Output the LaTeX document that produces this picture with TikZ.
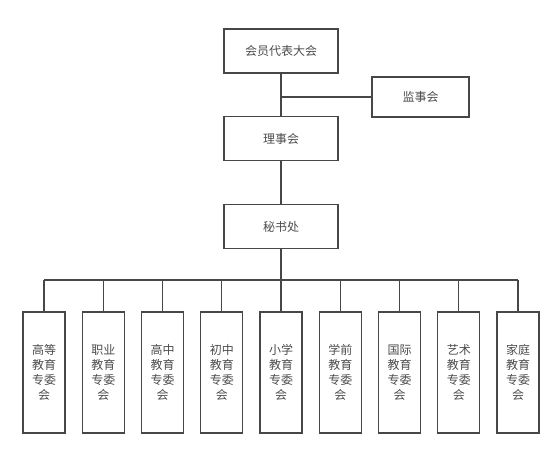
\documentclass[tikz,border=0pt]{standalone}
\usepackage{fontspec}
\setmainfont{Noto Sans CJK SC}
\tikzset{every picture/.style={line width=1.1pt}}
\tikzset{
  orgbox/.style={draw=black!72, text=black!70, minimum width=85.5pt, minimum height=33pt, inner sep=0pt, font=\fontsize{9}{11.25}\selectfont},
  sidebox/.style={orgbox, minimum width=72.75pt, minimum height=30pt},
  subbox/.style={draw=black!72, text=black!70, minimum width=31.5pt, minimum height=90.75pt, inner sep=0pt, align=center, font=\fontsize{9}{11.25}\selectfont},
  link/.style={draw=black!72}
}

\begin{document}
\begin{tikzpicture}[x=0.75pt,y=0.75pt,yscale=-1,xscale=1]
	\useasboundingbox (0,0) rectangle (559,454);

	% Main chain
	\node[orgbox] (congress) at (281,51) {会员代表大会};
	\node[orgbox] (council) at (281,138.5) {理事会};
	\node[orgbox] (office) at (281,226.5) {秘书处};
	\node[sidebox] (supervisor) at (420.5,97) {监事会};

	\draw[link] (congress) -- (council);
	\draw[link] (council) -- (office);
	\draw[link] (supervisor.west) -- (supervisor.west -| congress.south);

	% Committees
	\foreach \i/\name in {1/高等,2/职业,3/高中,4/初中,5/小学,6/学前,7/国际,8/艺术,9/家庭}
	  \node[subbox] (comm\i) at ({44+59.25*(\i-1)},372.5) {\name\\教育\\专委\\会};

	\coordinate (bus) at (281,280);
	\draw[link] (office) -- (bus);
	\draw[link] (bus -| comm1.north) -- (bus -| comm9.north);
	\foreach \i in {1,...,9}
	  \draw[link] (bus -| comm\i.north) -- (comm\i.north);

\end{tikzpicture}
\end{document}
